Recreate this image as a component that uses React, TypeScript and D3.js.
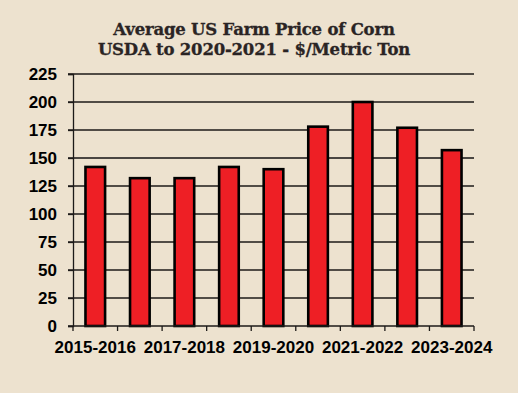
import React, { useEffect, useRef } from 'react';
import * as d3 from 'd3';

const seasons = [
  '2015-2016', '2016-2017', '2017-2018', '2018-2019', '2019-2020',
  '2020-2021', '2021-2022', '2022-2023', '2023-2024',
];
const prices = [142, 132, 132, 142, 140, 178, 200, 177, 157];
const yTicks = [0, 25, 50, 75, 100, 125, 150, 175, 200, 225];
const shownLabels = ['2015-2016', '2017-2018', '2019-2020', '2021-2022', '2023-2024'];
const titleLines = ['Average US Farm Price of Corn', 'USDA to 2020-2021 - $/Metric Ton'];

export default function App() {
  const svgRef = useRef<SVGSVGElement>(null);
  const width = 518;
  const height = 393;
  const margin = { top: 74, right: 44, bottom: 67, left: 73 };

  useEffect(() => {
    const svg = d3.select(svgRef.current);
    svg.selectAll('*').remove();
    svg.attr('width', width).attr('height', height);

    svg.append('rect').attr('width', width).attr('height', height).attr('fill', '#ede2cf');

    const x = d3
      .scaleBand()
      .domain(seasons)
      .range([margin.left, width - margin.right])
      .paddingInner(0.56)
      .paddingOuter(0.28);

    const y = d3
      .scaleLinear()
      .domain([0, 225])
      .range([height - margin.bottom, margin.top]);

    const bottom = height - margin.bottom;

    // title
    svg
      .append('g')
      .selectAll('text')
      .data(titleLines)
      .enter()
      .append('text')
      .attr('x', 254)
      .attr('y', (_, i) => 35 + i * 20)
      .attr('text-anchor', 'middle')
      .attr('font-family', 'DejaVu Serif')
      .attr('font-weight', 'bold')
      .attr('font-size', 16.5)
      .attr('letter-spacing', -0.2)
      .attr('fill', '#2a2424')
      .attr('stroke', '#2a2424')
      .attr('stroke-width', 0.3)
      .text((d) => d);

    // gridlines
    svg
      .append('g')
      .selectAll('line')
      .data(yTicks.filter((d) => d > 0))
      .enter()
      .append('line')
      .attr('x1', margin.left - 5)
      .attr('x2', width - margin.right)
      .attr('y1', (d) => y(d))
      .attr('y2', (d) => y(d))
      .attr('stroke', (d) => (d === 150 ? '#4a4642' : '#1c1a18'))
      .attr('stroke-width', (d) => (d === 150 ? 2.2 : 1.3));

    // y axis
    const yAxis = svg
      .append('g')
      .attr('transform', `translate(${margin.left},0)`)
      .call(d3.axisLeft(y).tickValues(yTicks).tickSize(5).tickPadding(11));
    yAxis.select('.domain').attr('stroke', '#1c1a18').attr('stroke-width', 1.3);
    yAxis.selectAll('line').attr('stroke', '#1c1a18').attr('stroke-width', 1.3);
    yAxis
      .selectAll('text')
      .attr('font-family', 'Liberation Sans, Arial, sans-serif')
      .attr('font-weight', 'bold')
      .attr('font-size', 17)
      .attr('fill', '#000');

    // bars
    svg
      .append('g')
      .selectAll('rect')
      .data(prices)
      .enter()
      .append('rect')
      .attr('x', (_, i) => x(seasons[i]) as number)
      .attr('y', (d) => y(d))
      .attr('width', x.bandwidth())
      .attr('height', (d) => bottom - y(d))
      .attr('fill', '#ee1f25')
      .attr('stroke', '#000')
      .attr('stroke-width', 2.6);

    // x axis
    const step = x.step();
    const xg = svg.append('g');
    xg.append('line')
      .attr('x1', margin.left - 5)
      .attr('x2', width - margin.right)
      .attr('y1', bottom)
      .attr('y2', bottom)
      .attr('stroke', '#1c1a18')
      .attr('stroke-width', 1.3);
    xg.selectAll('line.tick')
      .data(d3.range(seasons.length + 1))
      .enter()
      .append('line')
      .attr('class', 'tick')
      .attr('x1', (i) => margin.left + i * step)
      .attr('x2', (i) => margin.left + i * step)
      .attr('y1', bottom)
      .attr('y2', bottom + 5)
      .attr('stroke', '#1c1a18')
      .attr('stroke-width', 1.3);
    xg.selectAll('text')
      .data(shownLabels)
      .enter()
      .append('text')
      .attr('x', (d) => (x(d) as number) + x.bandwidth() / 2)
      .attr('y', bottom + 27)
      .attr('text-anchor', 'middle')
      .attr('font-family', 'Liberation Sans, Arial, sans-serif')
      .attr('font-weight', 'bold')
      .attr('font-size', 17)
      .attr('fill', '#000')
      .text((d) => d);
  }, []);

  return (
    <svg ref={svgRef} style={{ position: 'absolute', left: 0, top: 0 }}></svg>
  );
}
